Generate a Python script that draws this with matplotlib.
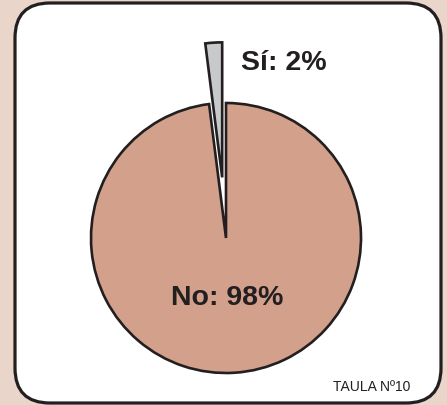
import matplotlib.pyplot as plt
from matplotlib.patches import FancyBboxPatch

labels = ["Sí", "No"]
values = [2, 98]
colors = ["#c8c9cb", "#d3a08b"]
explode = [0.45, 0]  # fraction of the radius
table_label = "TAULA Nº10"

W, H = 447, 405

fig = plt.figure(figsize=(W / 100, H / 100), dpi=100, facecolor="#ead5ca")
ax = fig.add_axes([0, 0, 1, 1])

card = FancyBboxPatch(
    (15, 2), 426, 400,
    boxstyle="round,pad=0,rounding_size=35",
    facecolor="white", edgecolor="#231f20", linewidth=2.3, zorder=0,
)
ax.add_patch(card)

# pie center / radius in pixel units (y measured from the bottom)
cx, cy, r = 226, H - 238, 135
ax.pie(
    values,
    colors=colors,
    explode=[e * r for e in explode],
    startangle=90,
    counterclock=True,
    center=(cx, cy),
    radius=r,
    frame=True,
    wedgeprops=dict(edgecolor="#231f20", linewidth=1.9),
)
ax.set_xlim(0, W)
ax.set_ylim(0, H)
ax.set_aspect("equal")
ax.axis("off")

font = dict(family="Liberation Sans", fontweight="bold", fontsize=20.5, color="#231f20")
ax.text(284, H - 63, f"{labels[0]}: {values[0]}%", ha="center", va="center", **font)
ax.text(227, H - 298, f"{labels[1]}: {values[1]}%", ha="center", va="center", **font)
ax.text(372, H - 387, table_label, ha="center", va="center",
        family="Liberation Sans", fontsize=10, color="#231f20")

fig.savefig("out.png", dpi=100, facecolor=fig.get_facecolor())
